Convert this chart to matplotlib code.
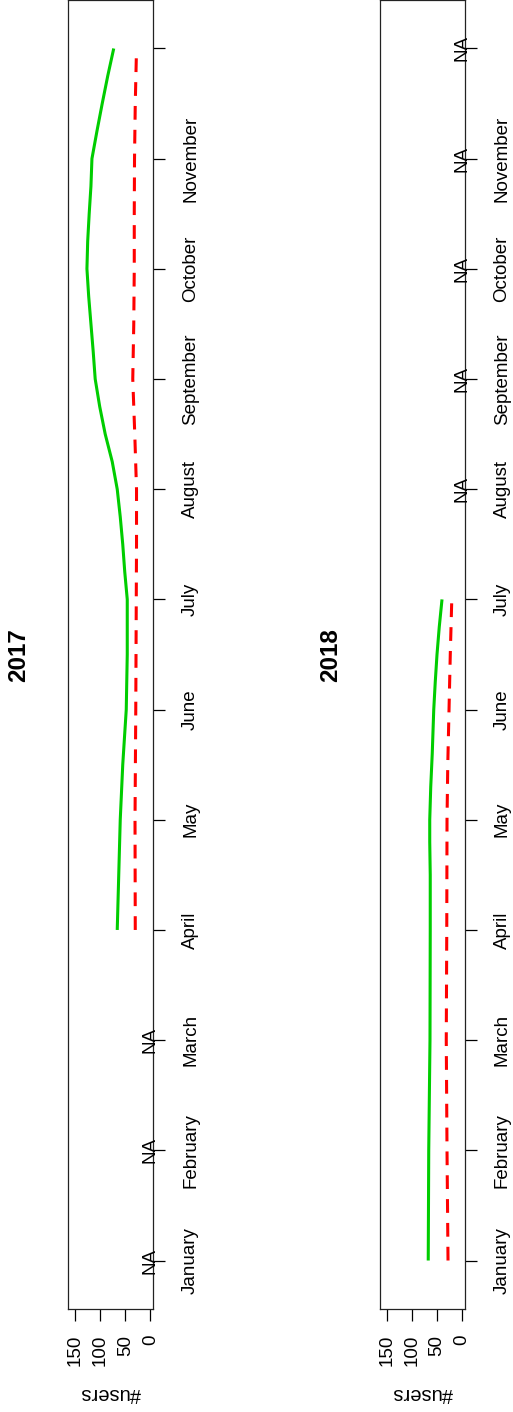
import matplotlib
matplotlib.use("Agg")
import matplotlib.pyplot as plt

plt.rcParams['font.family'] = ['Liberation Sans', 'DejaVu Sans']

mois = ['January', 'February', 'March', 'April', 'May', 'June', 'July',
        'August', 'September', 'October', 'November', 'December']
ticks_users = [0, 50, 100, 150]

# 2017 : pas de donnees de janvier a mars
x_vert_2017 = [4, 4.5, 5, 5.5, 6, 6.5, 7, 7.25, 7.5, 7.75, 8, 8.25, 8.5, 8.75,
               9, 9.25, 9.5, 9.75, 10, 10.25, 10.5, 10.75, 11, 11.25, 11.5, 11.75, 12]
y_vert_2017 = [66, 63, 60, 55, 48, 46, 46, 51, 55, 60, 66, 76, 90, 101,
               110, 114, 118.5, 123, 126.5, 125, 122, 118.5, 116.5, 106.5, 96, 85, 73]
x_rouge_2017 = [4, 5, 6, 7, 7.5, 8, 8.5, 9, 9.5, 10, 10.5, 11, 11.5, 12]
y_rouge_2017 = [30, 30.5, 29, 28, 27.5, 27.5, 31, 35, 33, 32, 32, 31.5, 30, 27.5]
na_2017 = [1, 2, 3]

# 2018 : pas de donnees d'aout a decembre
x_vert_2018 = [1, 2, 3, 4, 4.5, 4.8, 5, 5.3, 5.6, 6, 6.25, 6.5, 6.75, 7]
y_vert_2018 = [67, 66, 63.5, 63, 63, 64, 64, 62, 59, 56, 53, 49.5, 45, 39.5]
x_rouge_2018 = [1, 2, 3, 4, 5, 5.5, 6, 6.5, 7]
y_rouge_2018 = [27.5, 29.5, 31, 30, 29.5, 28, 25.5, 23, 20]
na_2018 = [8, 9, 10, 11, 12]

W, H = 513, 1412
TAILLE = 13.5


def panneau(fig, gauche, annee, xv, yv, xr, yr, na, titre_x):
    ax = fig.add_axes([gauche / W, 103 / H, 85.5 / W, 1309 / H])
    ax.plot(yv, xv, color='#00CD00', lw=2.2, solid_capstyle='butt')
    ax.plot(yr, xr, color='#FF0000', lw=2.2, dashes=(4.5, 3.3))
    for m in na:
        ax.text(0, m, 'NA', rotation=90, ha='center', va='center',
                fontsize=TAILLE, clip_on=False)
    ax.set_xlim(164.3, -6.4)
    ax.set_ylim(0.56, 12.44)
    ax.set_xticks(ticks_users)
    ax.set_xticklabels([str(t) for t in ticks_users], rotation=90, fontsize=TAILLE)
    ax.set_yticks(range(1, 13))
    ax.set_yticklabels(mois[:11] + [''], rotation=90, fontsize=TAILLE)
    ax.yaxis.tick_right()
    ax.tick_params(axis='both', direction='out', length=8.6, width=0.9)
    ax.tick_params(axis='x', pad=10)
    ax.tick_params(axis='y', pad=12)
    for lab in ax.get_yticklabels():
        lab.set_va('center')
    for s in ax.spines.values():
        s.set_linewidth(0.9)
        s.set_color('#222222')
    fig.text((gauche + 43) / W, 1 - 1393 / H, '#users', rotation=180,
             ha='center', va='center', fontsize=14.5)
    fig.text(titre_x / W, 1 - 655 / H, annee, rotation=90, ha='center',
             va='center', fontsize=17.5, fontweight='bold')
    return ax


def main():
    fig = plt.figure(figsize=(W / 100, H / 100), dpi=100)
    panneau(fig, 68, '2017', x_vert_2017, y_vert_2017, x_rouge_2017, y_rouge_2017, na_2017, 19)
    panneau(fig, 379.5, '2018', x_vert_2018, y_vert_2018, x_rouge_2018, y_rouge_2018, na_2018, 331)
    fig.savefig('out.png', dpi=100)


if __name__ == "__main__":
    main()
